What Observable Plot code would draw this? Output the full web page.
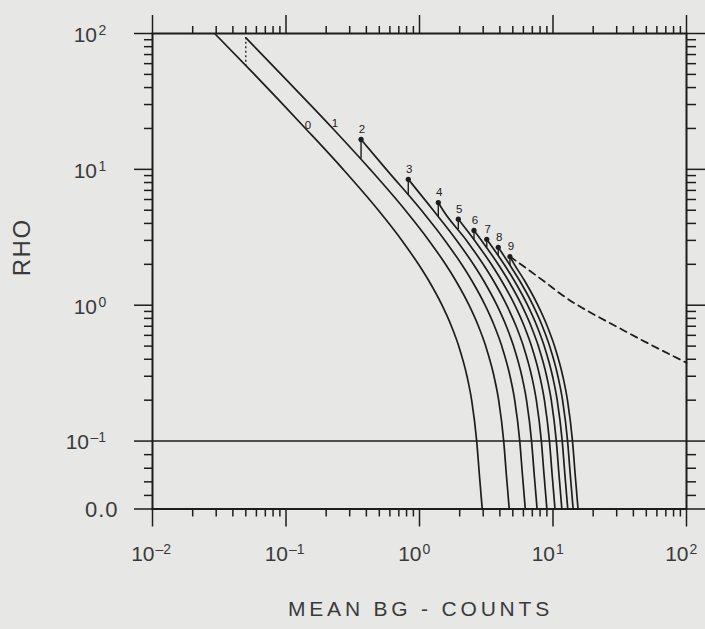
<!DOCTYPE html>
<html>
<head>
<meta charset="utf-8">
<script src="https://cdn.jsdelivr.net/npm/d3@7"></script>
<script src="https://cdn.jsdelivr.net/npm/@observablehq/plot@0.6"></script>
<style>
  html, body { margin: 0; padding: 0; background: #e7e7e5; }
</style>
</head>
<body>
<div id="chart"></div>
<script>
// ---- data ----
const curveNames = ["0", "1", "2", "3", "4", "5", "6", "7", "8", "9"];
// RHO levels at which each curve's crossing (mean BG) was read
const rhoLevels = [50, 20, 10, 5, 3, 2, 1.5, 1, 0.7, 0.5, 0.3, 0.2, 0.1, 0.05, 0];
const bg0 = [0.058, 0.140, 0.268, 0.492, 0.738, 0.983, 1.18, 1.475, 1.735, 1.967, 2.269, 2.458, 2.682, 2.81, 2.95];
const bg1 = [0.092, 0.224, 0.427, 0.783, 1.175, 1.567, 1.88, 2.35, 2.765, 3.133, 3.615, 3.917, 4.273, 4.476, 4.7];
const bg2 = [null, null, 0.564, 1.033, 1.55, 2.067, 2.48, 3.1, 3.647, 4.133, 4.769, 5.167, 5.636, 5.905, 6.2];
const bg3 = [null, null, null, 1.267, 1.9, 2.533, 3.04, 3.8, 4.471, 5.067, 5.846, 6.333, 6.909, 7.238, 7.6];
const bg4 = [null, null, null, 1.5, 2.25, 3.0, 3.6, 4.5, 5.294, 6.0, 6.923, 7.5, 8.182, 8.571, 9.0];
const bg5 = [null, null, null, null, 2.588, 3.45, 4.14, 5.175, 6.088, 6.9, 7.962, 8.625, 9.409, 9.857, 10.35];
const bg6 = [null, null, null, null, 2.913, 3.883, 4.66, 5.825, 6.853, 7.767, 8.962, 9.708, 10.59, 11.095, 11.65];
const bg7 = [null, null, null, null, null, 4.3, 5.16, 6.45, 7.588, 8.6, 9.923, 10.75, 11.727, 12.286, 12.9];
const bg8 = [null, null, null, null, null, 4.717, 5.66, 7.075, 8.324, 9.433, 10.885, 11.792, 12.864, 13.476, 14.15];
const bg9 = [null, null, null, null, null, 5.133, 6.16, 7.7, 9.059, 10.267, 11.846, 12.833, 14.0, 14.667, 15.4];
const curveBG = [bg0, bg1, bg2, bg3, bg4, bg5, bg6, bg7, bg8, bg9];
// start point of each curve (top edge or dot)
const startBG  = [0.0295, 0.05, 0.365, 0.824, 1.383, 1.953, 2.56, 3.19, 3.89, 4.76];
const startRho = [99, 93, 16.6, 8.45, 5.7, 4.3, 3.55, 3.06, 2.67, 2.28];
// lower end of the vertical connector from each start down to the previous curve
const connectorLowRho = [null, 58, 11.9, 6.5, 4.5, 3.6, 3.04, 2.65, 2.32, 1.97];
// dashed locus continuing past the last dot
const dashedBG  = [4.76, 8.97, 11.3, 33.6, 100];
const dashedRho = [2.28, 1.45, 1.22, 0.655, 0.377];
// positions of the "0" and "1" curve labels
const labelBG01  = [0.146, 0.233];
const labelRho01 = [21, 22];
// tick labels
const xMajor = [0.01, 0.1, 1, 10, 100];
const xExp = ["\u20132", "\u20131", "0", "1", "2"];
const yMajor = [100, 10, 1, 0.1];
const yExp = ["2", "1", "0", "\u20131"];
const yZero = [0];
const yZeroLabel = ["0.0"];
const yLinearMinor = [0.02, 0.04, 0.06, 0.08];
const xTitle = "MEAN BG - COUNTS";
const yTitle = "RHO";

// ---- helpers ----
// log scale above 0.1, linear segment 0..0.1 (half a decade high)
const ty = r => r >= 0.1 ? Math.log10(r) + 1 : 5 * r - 0.5;

const ink = "#1d1d1d";
const textInk = "#3a3a3a";

const lineRows = [];
curveNames.forEach((name, i) => {
  lineRows.push({curve: name, bg: startBG[i], rho: startRho[i]});
  rhoLevels.forEach((r, j) => {
    const b = curveBG[i][j];
    if (b != null) lineRows.push({curve: name, bg: b, rho: r});
  });
});
const connRows = curveNames.map((name, i) => ({n: i, bg: startBG[i], hi: startRho[i], lo: connectorLowRho[i]})).filter(d => d.n >= 1);
const dotRows = curveNames.map((name, i) => ({name, n: i, bg: startBG[i], rho: startRho[i]})).filter(d => d.n >= 2);
const dashRows = dashedBG.map((b, i) => ({bg: b, rho: dashedRho[i]}));
const label01 = labelBG01.map((b, i) => ({name: curveNames[i], bg: b, rho: labelRho01[i]}));

const xMinor = [];
[-2, -1, 0, 1].forEach(e => { for (let m = 2; m <= 9; m++) xMinor.push(m * Math.pow(10, e)); });
const yMinor = [];
[-1, 0, 1].forEach(e => { for (let m = 2; m <= 9; m++) yMinor.push(ty(m * Math.pow(10, e))); });
yLinearMinor.forEach(v => yMinor.push(ty(v)));
const yMajorT = yMajor.map(ty).concat(yZero.map(ty));

const yLabelRows = yMajor.map((v, i) => ({v, exp: yExp[i], neg: yExp[i].startsWith("\u2013")}));
const xLabelRows = xMajor.map((v, i) => ({v, exp: xExp[i]}));

const tickOpts = {fill: "none", stroke: ink, strokeWidth: 1.5};

const chart = Plot.plot({
  width: 705,
  height: 629,
  marginLeft: 152,
  marginRight: 19,
  marginTop: 33,
  marginBottom: 120.5,
  x: {type: "log", domain: [0.01, 100]},
  y: {type: "linear", domain: [-0.5, 3]},
  style: {background: "#e7e7e5", fontFamily: "'Liberation Sans', Arial, Helvetica, sans-serif", color: ink},
  marks: [
    // ticks on all four sides
    Plot.axisX(xMinor, {anchor: "bottom", tickSize: 8, ...tickOpts}),
    Plot.axisX(xMajor, {anchor: "bottom", tickSize: 18, ...tickOpts}),
    Plot.axisX(xMinor, {anchor: "top", tickSize: 8, ...tickOpts}),
    Plot.axisX(xMajor, {anchor: "top", tickSize: 19, ...tickOpts}),
    Plot.axisY(yMinor, {anchor: "left", tickSize: 8, ...tickOpts}),
    Plot.axisY(yMajorT, {anchor: "left", tickSize: 18, ...tickOpts}),
    Plot.axisY(yMinor, {anchor: "right", tickSize: 9, ...tickOpts}),
    Plot.axisY(yMajorT, {anchor: "right", tickSize: 19, ...tickOpts}),
    Plot.frame({stroke: ink, strokeWidth: 2}),
    // horizontal separator at RHO = 0.1
    Plot.ruleY([0.1], {y: d => ty(d), stroke: ink, strokeWidth: 1.6}),
    // curves
    Plot.line(lineRows, {x: "bg", y: d => ty(d.rho), z: "curve", curve: "monotone-x", stroke: ink, strokeWidth: 1.7}),
    // connectors
    Plot.ruleX(connRows.filter(d => d.n === 1), {x: "bg", y1: d => ty(d.hi), y2: d => ty(d.lo), stroke: ink, strokeWidth: 1.3, strokeDasharray: "2,2.5"}),
    Plot.ruleX(connRows.filter(d => d.n >= 2), {x: "bg", y1: d => ty(d.hi), y2: d => ty(d.lo), stroke: ink, strokeWidth: 1.4}),
    // dashed locus
    Plot.line(dashRows, {x: "bg", y: d => ty(d.rho), curve: "monotone-x", stroke: ink, strokeWidth: 1.8, strokeDasharray: "7,5"}),
    // dots and their labels
    Plot.dot(dotRows, {x: "bg", y: d => ty(d.rho), r: 2.6, fill: ink, stroke: "none"}),
    Plot.text(dotRows, {x: "bg", y: d => ty(d.rho), text: "name", dx: 1, dy: -10, fontSize: 11.5, fill: ink}),
    Plot.text(label01, {x: "bg", y: d => ty(d.rho), text: "name", fontSize: 11.5, fill: ink}),
    // x tick labels
    Plot.text(xLabelRows, {x: "v", frameAnchor: "bottom", text: () => "10", textAnchor: "end", dx: 2, dy: 51.5, fontSize: 21, fill: textInk}),
    Plot.text(xLabelRows, {x: "v", frameAnchor: "bottom", text: "exp", textAnchor: "start", dx: 3, dy: 45, fontSize: 14, fill: textInk}),
    // y tick labels
    Plot.text(yLabelRows, {filter: d => !d.neg, y: d => ty(d.v), frameAnchor: "left", text: () => "10", textAnchor: "end", dx: -55.5, dy: 2, fontSize: 21, fill: textInk}),
    Plot.text(yLabelRows, {filter: d => !d.neg, y: d => ty(d.v), frameAnchor: "left", text: "exp", textAnchor: "start", dx: -54, dy: -2.5, fontSize: 14, fill: textInk}),
    Plot.text(yLabelRows, {filter: d => d.neg, y: d => ty(d.v), frameAnchor: "left", text: () => "10", textAnchor: "end", dx: -63.5, dy: 1, fontSize: 21, fill: textInk}),
    Plot.text(yLabelRows, {filter: d => d.neg, y: d => ty(d.v), frameAnchor: "left", text: "exp", textAnchor: "start", dx: -62, dy: -3.5, fontSize: 14, fill: textInk}),
    Plot.text(yZero, {y: d => ty(d), frameAnchor: "left", text: (d, i) => yZeroLabel[i], textAnchor: "end", dx: -34, dy: 1, fontSize: 22, fill: textInk}),
    // axis titles
    Plot.text([xTitle], {frameAnchor: "bottom", text: d => d, dx: 1, dy: 107, fontSize: 21, fill: textInk}),
    Plot.text([yTitle], {frameAnchor: "left", text: d => d, dx: -130, dy: 5, rotate: -90, fontSize: 24, fill: textInk})
  ]
});
// widen the letter spacing of the hand-lettered titles
const spacing = new Map([[xTitle, "3.8px"], [yTitle, "1.5px"], [yZeroLabel[0], "1px"]]);
d3.select(chart).selectAll("text").each(function () {
  const s = spacing.get(this.textContent);
  if (s) this.style.letterSpacing = s;
});
document.getElementById("chart").appendChild(chart);
</script>
</body>
</html>
